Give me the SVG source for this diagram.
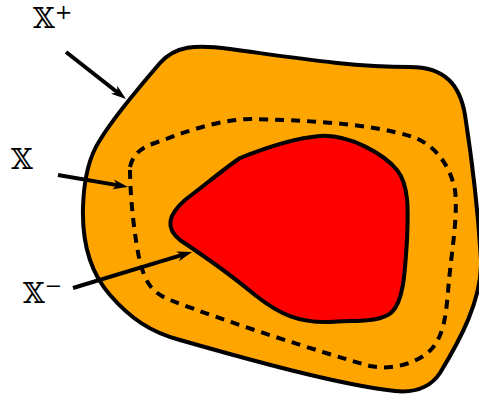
<svg xmlns="http://www.w3.org/2000/svg" width="479" height="401" viewBox="0 0 479 401">
<style>
.outline{stroke:#000;stroke-width:4;stroke-linejoin:round}
.dash{fill:none;stroke:#000;stroke-width:4;stroke-dasharray:9 7}
.arrow{stroke:#000;stroke-width:4;fill:none;marker-end:url(#ah)}
.lbl{font-family:"DejaVu Serif","DejaVu Sans","Noto Sans",serif;font-size:28px;fill:#000}
</style>
<defs>
<marker id="ah" viewBox="-5 -6 17 12" refX="0" refY="0" markerWidth="17" markerHeight="12" markerUnits="userSpaceOnUse" orient="auto">
<path d="M-4,-5 L11,0 L-4,5 L0,0 Z" fill="#000"/>
</marker>
</defs>
<g id="outer">
<path class="outline" fill="#FFA500" d="M160,63 C175,46 195,44 230,49 C290,57 350,67 410,67 C445,67 460,85 465,115 C472,160 478,210 481,260 C482,300 460,340 440,373 C430,388 415,393 395,391 C340,385 250,360 180,340 C150,332 130,318 110,295 C88,270 82,240 83,207 C84,175 90,155 100,140 C112,120 135,92 160,63 Z"/>
</g>
<g id="middle">
<path class="dash" d="M130,167 C133,155 140,148 155,143 C180,134 215,120 250,119 C300,120 370,123 413,137 C435,145 450,165 455,190 C458,215 452,250 449,280 C446,315 445,340 425,355 C410,365 390,370 370,366 C320,352 230,323 170,300 C150,292 145,280 140,262 C135,240 130,200 130,167 Z"/>
</g>
<g id="inner">
<path class="outline" fill="#FF0000" d="M240,158 C265,148 295,138 320,136 C350,134 385,155 397,170 C410,186 408,215 407,240 C405,270 404,300 392,312 C380,323 355,320 330,322 C300,323 280,315 255,295 C225,270 195,250 180,240 C165,228 168,215 185,200 C205,185 225,168 240,158 Z"/>
</g>
<g id="connectors">
<line class="arrow" x1="66" y1="52" x2="117.3" y2="92.2"/>
<line class="arrow" x1="58" y1="175" x2="117.2" y2="185.1"/>
<line class="arrow" x1="73" y1="288" x2="181.5" y2="255.2"/>
</g>
<g id="label-xplus"><text class="lbl" x="33" y="28">𝕏<tspan font-size="21" dy="-9">+</tspan></text></g>
<g id="label-x"><text class="lbl" x="11" y="169">𝕏</text></g>
<g id="label-xminus"><text class="lbl" x="23" y="303">𝕏<tspan font-size="21" dy="-10">−</tspan></text></g>
</svg>
